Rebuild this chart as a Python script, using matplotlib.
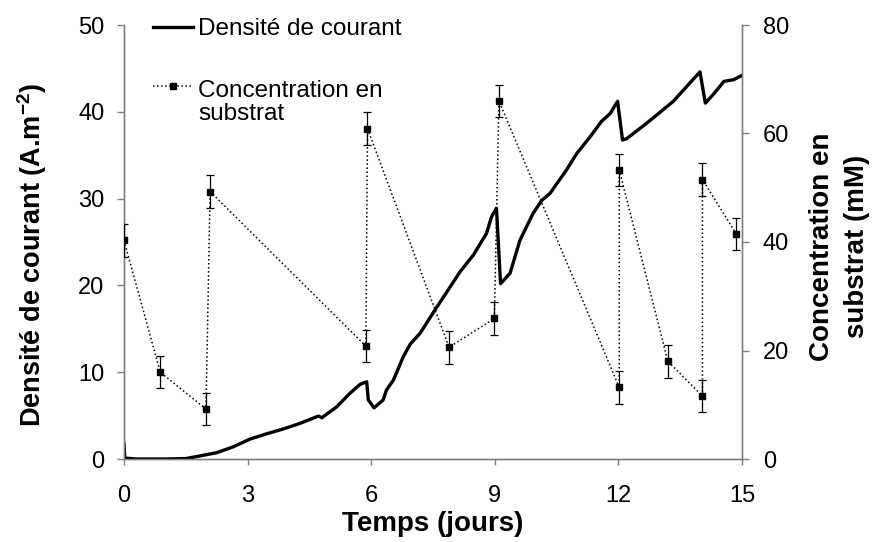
import matplotlib
matplotlib.use("Agg")
import matplotlib.pyplot as plt
from matplotlib.lines import Line2D

plt.rcParams['font.family'] = ['Liberation Sans', 'DejaVu Sans']
plt.rcParams['mathtext.fontset'] = 'custom'
plt.rcParams['mathtext.rm'] = 'Liberation Sans'
plt.rcParams['mathtext.bf'] = 'Liberation Sans:bold'

# ---- data: current density (A.m-2) vs time (days)
t_current = [0.0, 0.02, 0.3, 1.0, 1.5, 1.84, 2.25, 2.65, 3.06, 3.46, 3.86, 4.27,
             4.72, 4.80, 4.90, 5.16, 5.49, 5.73, 5.89, 5.93, 6.07, 6.29, 6.37,
             6.54, 6.78, 6.95, 7.19, 7.51, 7.92, 8.16, 8.48, 8.80, 8.92, 9.04,
             9.14, 9.37, 9.61, 9.93, 10.14, 10.34, 10.74, 10.99, 11.31, 11.59,
             11.80, 11.98, 12.10, 12.20, 12.69, 13.33, 13.98, 14.11, 14.32,
             14.56, 14.80, 15.0]
j_current = [1.7, 0.1, 0.0, 0.0, 0.05, 0.35, 0.73, 1.4, 2.3, 2.9, 3.45, 4.1,
             4.95, 4.75, 5.1, 6.0, 7.6, 8.6, 8.9, 6.8, 5.9, 6.8, 7.95,
             9.1, 11.8, 13.25, 14.5, 16.9, 19.85, 21.6, 23.5, 26.0, 27.9, 28.9,
             20.2, 21.4, 25.2, 28.3, 29.8, 30.6, 33.3, 35.2, 37.1, 38.9,
             39.8, 41.2, 36.75, 36.9, 38.7, 41.2, 44.6, 41.0, 42.1,
             43.5, 43.7, 44.2]

# ---- data: substrate concentration (mM) vs time (days)
t_conc = [0.0, 0.88, 1.99, 2.09, 5.87, 5.91, 7.89, 8.99, 9.10, 12.02, 12.02,
          13.20, 14.04, 14.04, 14.86]
c_conc = [40.3, 16.0, 9.2, 49.3, 20.8, 60.9, 20.6, 25.9, 66.0, 13.2, 53.3,
          18.0, 11.6, 51.5, 41.5]
c_err = [3.0] * len(c_conc)

x_ticks = [0, 3, 6, 9, 12, 15]
y_left_ticks = [0, 10, 20, 30, 40, 50]
y_right_ticks = [0, 20, 40, 60, 80]

label_left = 'Densité de courant (A.m$^{\\mathbf{-2}}$)'
label_right = 'Concentration en\nsubstrat (mM)'
label_x = 'Temps (jours)'
legend_1 = 'Densité de courant'
legend_2 = 'Concentration en\nsubstrat'

W, H = 878, 542
fig = plt.figure(figsize=(W / 100, H / 100), dpi=100)
ax = fig.add_axes([124 / W, 83 / H, 618 / W, 434 / H])
ax2 = ax.twinx()

spine_col = '#808080'
tick_fs = 17
lab_fs = 19.5

ax.plot(t_current, j_current, color='black', lw=2.4, solid_joinstyle='round',
        zorder=3)
ax2.errorbar(t_conc, c_conc, yerr=c_err, color='black', ls=':', lw=1.1,
             marker='s', ms=5, mfc='black', mec='black', ecolor='black',
             elinewidth=0.9, capsize=3, capthick=0.9, zorder=4)

ax.set_xlim(0, 15)
ax.set_ylim(0, 50)
ax2.set_ylim(0, 80)
ax.set_xticks(x_ticks)
ax.set_yticks(y_left_ticks)
ax2.set_yticks(y_right_ticks)

for a in (ax, ax2):
    a.spines['top'].set_visible(False)
    for s in ('left', 'right', 'bottom'):
        a.spines[s].set_color(spine_col)
        a.spines[s].set_linewidth(1.0)
ax.tick_params(axis='x', direction='out', length=4.5, width=1, color=spine_col,
               labelsize=tick_fs, pad=14)
ax.tick_params(axis='y', direction='out', length=5, width=1, color=spine_col,
               labelsize=tick_fs, pad=9)
ax2.tick_params(axis='y', direction='out', length=5, width=1, color=spine_col,
                labelsize=tick_fs, pad=10)

ax.set_xlabel(label_x, fontsize=lab_fs + 0.5, fontweight='bold')
ax.xaxis.set_label_coords(0.5, -0.12)
ax.set_ylabel(label_left, fontsize=lab_fs, fontweight='bold')
ax.yaxis.set_label_coords(-0.121, 0.47)
ax2.set_ylabel(label_right, fontsize=lab_fs + 0.5, fontweight='bold',
               multialignment='center', linespacing=1.45)
ax2.yaxis.set_label_coords(1.109, 0.49)

# ---- legend (drawn in axes fraction)
leg_fs = 17.5
ax.add_line(Line2D([0.047, 0.112], [0.995, 0.995], transform=ax.transAxes,
                   color='black', lw=2.4, clip_on=False))
ax.text(0.120, 0.976, legend_1, transform=ax.transAxes, fontsize=leg_fs,
        va='baseline', ha='left')
ax.add_line(Line2D([0.047, 0.112], [0.859, 0.859], transform=ax.transAxes,
                   color='black', lw=1.1, ls=':', clip_on=False))
ax.add_line(Line2D([0.079], [0.859], transform=ax.transAxes, color='black',
                   marker='s', ms=5, clip_on=False))
ax.text(0.120, 0.780, legend_2, transform=ax.transAxes, fontsize=leg_fs,
        va='baseline', ha='left', linespacing=1.1)

fig.savefig('out.png', dpi=100)
